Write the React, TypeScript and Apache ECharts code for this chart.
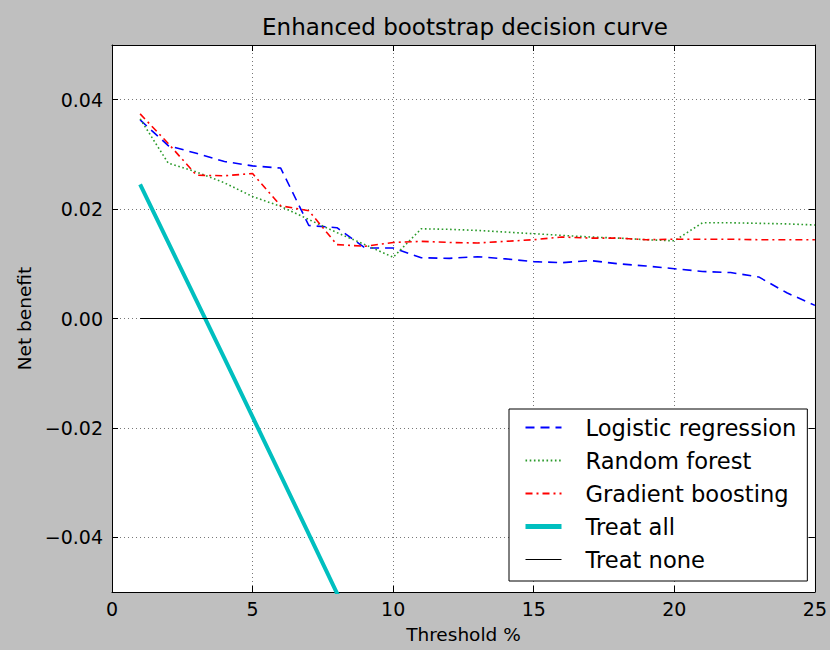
import React, { useEffect, useRef } from "react";
import * as echarts from "echarts";

const thresholds = [1, 2, 3, 4, 5, 6, 7, 8, 9, 10, 11, 12, 13, 14, 15, 16, 17, 18, 19, 20, 21, 22, 23, 24, 25];
const logisticRegression = [0.0363, 0.0316, 0.0302, 0.0287, 0.0279, 0.0275, 0.0170, 0.0166, 0.0129, 0.0129, 0.0111, 0.0110, 0.0113, 0.0109, 0.0104, 0.0102, 0.0106, 0.0100, 0.0096, 0.0091, 0.0086, 0.0084, 0.0076, 0.0047, 0.0024];
const randomForest = [0.0365, 0.0284, 0.0268, 0.0248, 0.0223, 0.0205, 0.0181, 0.0157, 0.0135, 0.0112, 0.0164, 0.0163, 0.0161, 0.0158, 0.0155, 0.0152, 0.0149, 0.0147, 0.0144, 0.0142, 0.0175, 0.0175, 0.0174, 0.0173, 0.0171];
const gradientBoosting = [0.0374, 0.0320, 0.0262, 0.0261, 0.0265, 0.0206, 0.0197, 0.0135, 0.0132, 0.0139, 0.0141, 0.0139, 0.0138, 0.0141, 0.0144, 0.0149, 0.0147, 0.0147, 0.0144, 0.0145, 0.0145, 0.0145, 0.0144, 0.0144, 0.0144];
const treatAllThresholds = [1, 2, 3, 4, 5, 6, 7, 8, 9];
const treatAll = [0.0245, 0.0139, 0.0033, -0.0073, -0.0180, -0.0287, -0.0394, -0.0502, -0.0611];
const treatNone = [0, 0, 0, 0, 0, 0, 0, 0, 0, 0, 0, 0, 0, 0, 0, 0, 0, 0, 0, 0, 0, 0, 0, 0, 0];
const yTicks = [-0.04, -0.02, 0, 0.02, 0.04];
const seriesNames = ["Logistic regression", "Random forest", "Gradient boosting", "Treat all", "Treat none"];

const FONT = "DejaVu Sans";

export default function App() {
  const ref = useRef<HTMLDivElement>(null);
  useEffect(() => {
    if (!ref.current) return;
    const chart = echarts.init(ref.current, null, { renderer: "svg" });
    const pair = (xs: number[], ys: number[]) => xs.map((x, i) => [x, ys[i]]);
    const fmtY = (v: number) => {
      const s = Math.abs(v).toFixed(2);
      return v < -1e-9 ? "\u2212" + s : s;
    };
    const gridLine = { show: true, lineStyle: { color: "#777", width: 1, type: [1, 3] as any } };
    const axisLine = { show: true, onZero: false, lineStyle: { color: "#000", width: 1 } };
    const tick = { show: true, inside: true, length: 6, lineStyle: { color: "#000", width: 1 } };
    const legendData = seriesNames.map((name) =>
      name === "Treat all" ? { name, lineStyle: { width: 5 } } : name === "Treat none" ? { name, lineStyle: { width: 1.2 } } : { name }
    );
    chart.setOption({
      animation: false,
      backgroundColor: "#bfbfbf",
      textStyle: { fontFamily: FONT },
      title: {
        text: "Enhanced bootstrap decision curve",
        left: 465,
        top: 15,
        padding: 0,
        textAlign: "center",
        textStyle: { fontFamily: FONT, fontSize: 23, fontWeight: "normal", color: "#000" },
      },
      grid: {
        left: 112,
        top: 45,
        right: 12,
        bottom: 58,
        show: true,
        backgroundColor: "#fff",
        borderWidth: 0,
      },
      legend: {
        orient: "vertical",
        left: 509,
        top: 409,
        padding: [7, 11, 10, 14],
        itemGap: 10,
        itemWidth: 36,
        itemHeight: 14,
        backgroundColor: "#fff",
        borderColor: "#000",
        borderWidth: 1,
        borderRadius: 0,
        data: legendData,
        itemStyle: { opacity: 0 },
        textStyle: { fontFamily: FONT, fontSize: 22.6, color: "#000", lineHeight: 22, padding: [0, 0, 0, 19] },
      },
      xAxis: [
        {
          type: "value",
          min: 0,
          max: 25,
          interval: 5,
          position: "bottom",
          axisLine,
          axisTick: tick,
          axisLabel: { fontFamily: FONT, fontSize: 19, color: "#000", margin: 7 },
          splitLine: gridLine,
          name: "Threshold %",
          nameLocation: "middle",
          nameGap: 33,
          nameTextStyle: { fontFamily: FONT, fontSize: 18.5, color: "#000" },
        },
        {
          type: "value",
          min: 0,
          max: 25,
          interval: 5,
          position: "top",
          axisLine,
          axisTick: tick,
          axisLabel: { show: false },
          splitLine: { show: false },
        },
      ],
      yAxis: [
        {
          type: "value",
          min: -0.05,
          max: 0.05,
          position: "left",
          axisLine,
          axisTick: { ...tick, customValues: yTicks },
          axisLabel: { fontFamily: FONT, fontSize: 19, color: "#000", margin: 9, customValues: yTicks, formatter: fmtY },
          splitLine: gridLine,
          name: "Net benefit",
          nameLocation: "middle",
          nameRotate: 90,
          nameGap: 69,
          nameTextStyle: { fontFamily: FONT, fontSize: 18.5, color: "#000" },
        },
        {
          type: "value",
          min: -0.05,
          max: 0.05,
          position: "right",
          axisLine,
          axisTick: { ...tick, customValues: yTicks },
          axisLabel: { show: false, customValues: yTicks },
          splitLine: { show: false },
        },
      ],
      series: [
        {
          name: "Logistic regression",
          type: "line",
          data: pair(thresholds, logisticRegression),
          symbol: "none",
          clip: true,
          itemStyle: { color: "#0000ff" },
          lineStyle: { color: "#0000ff", width: 1.6, type: [9, 6] },
          z: 3,
        },
        {
          name: "Random forest",
          type: "line",
          data: pair(thresholds, randomForest),
          symbol: "none",
          clip: true,
          itemStyle: { color: "#2a9a2a" },
          lineStyle: { color: "#2a9a2a", width: 1.6, type: [1.6, 2.6] },
          z: 3,
        },
        {
          name: "Gradient boosting",
          type: "line",
          data: pair(thresholds, gradientBoosting),
          symbol: "none",
          clip: true,
          itemStyle: { color: "#ff0000" },
          lineStyle: { color: "#ff0000", width: 1.6, type: [7, 4, 2, 4] },
          z: 3,
        },
        {
          name: "Treat all",
          type: "line",
          data: pair(treatAllThresholds, treatAll),
          symbol: "none",
          clip: true,
          itemStyle: { color: "#00bfbf" },
          lineStyle: { color: "#00bfbf", width: 4 },
          z: 3,
        },
        {
          name: "Treat none",
          type: "line",
          data: pair(thresholds, treatNone),
          symbol: "none",
          clip: true,
          itemStyle: { color: "#000" },
          lineStyle: { color: "#000", width: 1.2 },
          z: 3,
        },
      ],
    });
    return () => chart.dispose();
  }, []);
  return <div ref={ref} style={{ position: "absolute", left: 0, top: 0, width: 830, height: 650 }} />;
}
